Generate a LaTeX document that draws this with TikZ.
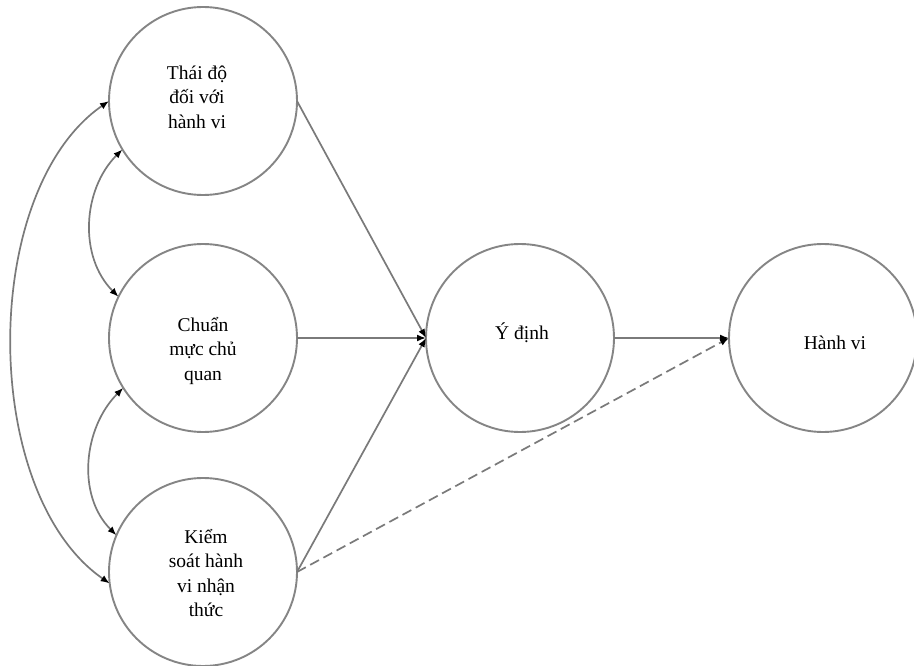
\documentclass[tikz,border=0pt]{standalone}
\usepackage{fontspec}
\setmainfont{Liberation Serif}
\usetikzlibrary{arrows.meta}
\definecolor{circgray}{HTML}{858585}
\definecolor{linegray}{HTML}{7A7A7A}
\begin{document}
\begin{tikzpicture}[x=1pt,y=-1pt,
  circ/.style={circle, draw=circgray, line width=1.9pt, minimum size=188pt, inner sep=0pt, outer sep=0pt},
  lbl/.style={font=\fontsize{19.5}{24.5}\selectfont, align=center, inner sep=0pt, text=black},
  tip/.tip={Latex[length=9pt,width=7pt,color=black]},
  con/.style={draw=linegray, line width=1.7pt, -tip},
  bicon/.style={draw=linegray, line width=1.7pt, tip-tip},
  dashcon/.style={con, dash pattern=on 10pt off 5pt}
]
\useasboundingbox (0,0) rectangle (914,666);
\fill[white] (0,0) rectangle (914,666);

\node[circ] (A) at (203,101) {};
\node[circ] (B) at (203,338) {};
\node[circ] (C) at (203,572) {};
\node[circ] (I) at (520,338) {};
\node[circ] (H) at (823,338) {};

\node[lbl] (tA) at (197,97) {Thái độ\\đối với\\hành vi};
\node[lbl] (tB) at (203,351) {Chuẩn\\mực chủ\\quan};
\node[lbl] (tC) at (206,573) {Kiểm\\soát hành\\vi nhận\\thức};
\node[lbl] (tI) at (522,333) {Ý định};
\node[lbl] (tH) at (835,343) {Hành vi};

\draw[con] (A.east) -- (I.west);
\draw[con] (B.east) -- (I.west);
\draw[con] (C.east) -- (I.west);
\draw[con] (I.east) -- (H.west);
\draw[dashcon] (C.east) -- (H.west);

\draw[bicon] (A.211) .. controls +(-40,40) and +(-40,-40) .. (B.154);
\draw[bicon] (B.212) .. controls +(-40,40) and +(-40,-40) .. (C.157);
\draw[bicon] (A.180) .. controls +(-130,90) and +(-130,-90) .. (C.187);
\end{tikzpicture}
\end{document}
